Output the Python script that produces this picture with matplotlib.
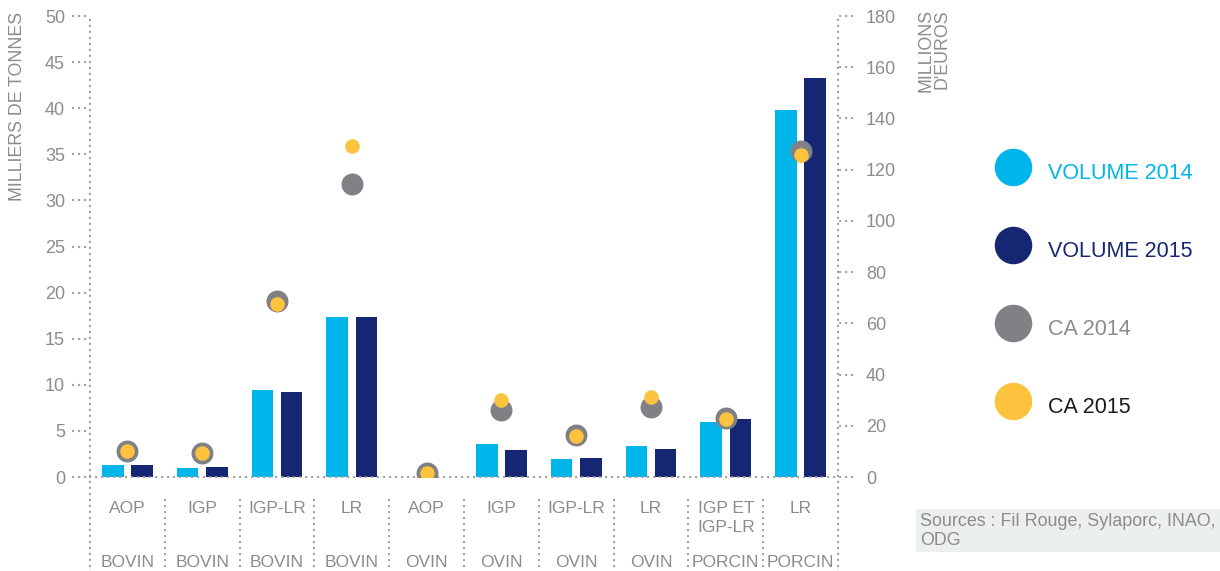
import numpy as np
import matplotlib.pyplot as plt
from matplotlib.lines import Line2D
from matplotlib.patches import Rectangle

plt.rcParams['font.family'] = ['Liberation Sans', 'DejaVu Sans']

# ==== Data ====
produits = ['AOP', 'IGP', 'IGP-LR', 'LR', 'AOP', 'IGP', 'IGP-LR', 'LR',
            'IGP ET\nIGP-LR', 'LR']
filieres = ['BOVIN', 'BOVIN', 'BOVIN', 'BOVIN', 'OVIN', 'OVIN', 'OVIN', 'OVIN',
            'PORCIN', 'PORCIN']
volume_2014 = [1.3, 0.95, 9.4, 17.35, 0, 3.6, 1.95, 3.35, 6.0, 39.8]   # milliers de tonnes
volume_2015 = [1.3, 1.1, 9.2, 17.35, 0, 2.9, 2.05, 3.0, 6.3, 43.3]
ca_2014 = [10.2, 9.5, 68.9, 114.5, 1.7, 26.2, 16.5, 27.2, 23.2, 127.3]  # millions d'euros
ca_2015 = [10.2, 9.5, 67.6, 129.2, 1.7, 30.1, 16.1, 31.1, 22.5, 125.7]

vol_ticks = np.arange(0, 51, 5)
ca_ticks = np.arange(0, 181, 20)

# ==== Colours ====
C_V14 = '#00b5e9'
C_V15 = '#152773'
C_CA14 = '#808184'
C_CA15 = '#fdc23e'
GRAY = '#8c8c8c'
dotted = dict(color='#9a9a9a', lw=1.6, ls=(0, (0.1, 2.6)),
              dash_capstyle='round', clip_on=False)

W, H = 1220, 571
fig = plt.figure(figsize=(W / 100, H / 100), dpi=100)
ax = fig.add_axes([90 / W, 94 / H, 748 / W, 461 / H])
ax2 = ax.twinx()

x = np.arange(len(produits))
ax.bar(x - 0.195, volume_2014, 0.29, color=C_V14, zorder=2)
ax.bar(x + 0.195, volume_2015, 0.29, color=C_V15, zorder=2)
ax2.scatter(x, ca_2014, s=250, color=C_CA14, linewidths=0, zorder=3)
ax2.scatter(x, ca_2015, s=110, color=C_CA15, linewidths=0, zorder=4)

ax.set_xlim(-0.5, len(produits) - 0.5)
ax.set_ylim(0, 50)
ax2.set_ylim(0, 180)
for a in (ax, ax2):
    for sp in a.spines.values():
        sp.set_visible(False)
ax.set_xticks([])
ax.set_yticks(vol_ticks)
ax2.set_yticks(ca_ticks)
ax.tick_params(axis='y', length=0, pad=18, labelsize=13, labelcolor=GRAY)
ax2.tick_params(axis='y', length=0, pad=20, labelsize=13, labelcolor=GRAY)

# dotted frame, ticks and separators
ax.plot([0, 0], [-0.205, 1], transform=ax.transAxes, **dotted)
ax.plot([1, 1], [-0.205, 1], transform=ax.transAxes, **dotted)
ax.plot([0, 1], [0, 0], transform=ax.transAxes, **dotted)
for t in vol_ticks:
    ax.plot([-0.023, -0.002], [t, t], transform=ax.get_yaxis_transform(), **dotted)
for t in ca_ticks:
    ax2.plot([1.003, 1.025], [t, t], transform=ax2.get_yaxis_transform(), **dotted)
for b in x[:-1] + 0.5:
    ax.plot([b, b], [-0.05, -0.205], transform=ax.get_xaxis_transform(), **dotted)

# category labels
for xi, p, f in zip(x, produits, filieres):
    ax.text(xi, -0.052, p, transform=ax.get_xaxis_transform(), ha='center',
            va='top', fontsize=12.5, color=GRAY, linespacing=1.3)
    ax.text(xi, -0.186, f, transform=ax.get_xaxis_transform(), ha='center',
            va='center', fontsize=12.5, color=GRAY)

# axis titles
fig.text(18 / W, 1 - 12 / H, 'MILLIERS DE TONNES', rotation=90, ha='center',
         va='top', fontsize=12.8, color=GRAY)
fig.text(934 / W, 1 - 9 / H, "MILLIONS\nD'EUROS", rotation=90, ha='center',
         va='top', fontsize=12.8, color=GRAY, multialignment='right',
         linespacing=1.0)

# legend
labels = ['VOLUME 2014', 'VOLUME 2015', 'CA 2014', 'CA 2015']
colors = [C_V14, C_V15, C_CA14, C_CA15]
text_colors = [C_V14, C_V15, GRAY, '#1a1a1a']
handles = [Line2D([0], [0], marker='o', ls='', markersize=27,
                  markerfacecolor=c, markeredgewidth=0) for c in colors]
leg = fig.legend(handles, labels, loc='center left',
                 bbox_to_anchor=(987 / W, 1 - 289 / H), frameon=False,
                 borderaxespad=0, fontsize=15.5, handlelength=1.6,
                 handleheight=2.0, labelspacing=2.07, handletextpad=0.84)
for txt, c in zip(leg.get_texts(), text_colors):
    txt.set_color(c)

# sources box
fig.add_artist(Rectangle((916 / W, 19 / H), (W - 916) / W, 43 / H,
                         transform=fig.transFigure, facecolor='#eceff0',
                         edgecolor='none'))
fig.text(920 / W, 1 - 513 / H, 'Sources : Fil Rouge, Sylaporc, INAO,\nODG',
         ha='left', va='top', fontsize=12.9, color=GRAY, linespacing=1.15)

fig.savefig('out.png', dpi=100)
